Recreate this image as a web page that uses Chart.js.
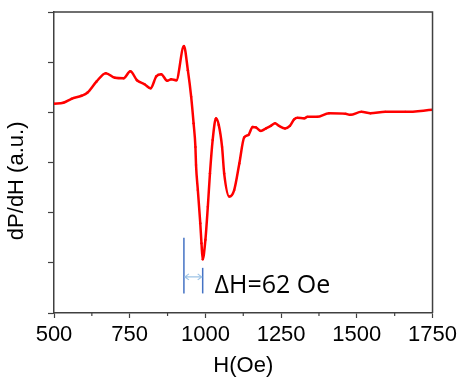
<!DOCTYPE html>
<html>
<head>
<meta charset="utf-8">
<script src="https://cdn.jsdelivr.net/npm/chart.js@4/dist/chart.umd.min.js"></script>
<style>
  body { margin: 0; background: #fff; }
  #wrap { width: 461px; height: 383px; }
</style>
</head>
<body>
<div id="wrap"><canvas id="fmr-chart" width="461" height="383"></canvas></div>
<script>
// field (Oe) and derivative signal (a.u.)
const fieldH = [500, 531, 558, 591, 610, 640, 671, 701, 730, 752, 774, 799, 819, 838, 854, 874, 887, 904,
  929, 942, 953, 961, 967, 969, 975, 983, 987, 991, 1000, 1008, 1015, 1024, 1035, 1044, 1055, 1062, 1079,
  1095, 1112, 1128, 1142, 1156, 1167, 1183, 1200, 1216, 1230, 1243, 1263, 1279, 1293, 1304, 1326, 1337,
  1369, 1408, 1463, 1479, 1515, 1545, 1594, 1660, 1750];
const dPdH = [4.17, 4.19, 4.27, 4.33, 4.39, 4.61, 4.78, 4.69, 4.68, 4.82, 4.64, 4.56, 4.48, 4.72, 4.76, 4.63, 4.66, 4.64,
  5.32, 4.84, 4.31, 3.78, 3.31, 2.95, 2.45, 1.79, 1.39, 1.07, 1.46, 2.12, 2.78, 3.45, 3.88, 3.75, 3.31, 2.78, 2.32,
  2.45, 2.98, 3.50, 3.55, 3.71, 3.70, 3.63, 3.68, 3.73, 3.78, 3.73, 3.68, 3.73, 3.86, 3.89, 3.88, 3.91,
  3.91, 3.98, 3.97, 3.95, 4.01, 3.98, 4.01, 4.01, 4.05];

const xTicks = [500, 750, 1000, 1250, 1500, 1750];
const xMinorTicks = [625, 875, 1125, 1375, 1625];

// linewidth marker: peak and trough fields, y-extents in a.u.
const markerH = [929, 991];
const markerTop = [1.5, 0.9];
const markerBottom = 0.39;
const arrowY = 0.72;
const widthLabel = 'ΔH=62 Oe';
const labelAt = [1030, 0.4];

const axisColor = '#404040';

const frame = {
  id: 'frame',
  afterDraw(chart) {
    const {ctx, chartArea: a, scales: {x, y}} = chart;
    ctx.save();
    ctx.strokeStyle = axisColor;
    ctx.lineWidth = 1.5;
    ctx.beginPath();
    ctx.moveTo(a.left, a.top); ctx.lineTo(a.right, a.top); ctx.lineTo(a.right, a.bottom);
    ctx.stroke();
    // minor ticks on x
    ctx.lineWidth = 1.2;
    xMinorTicks.forEach(v => {
      const px = x.getPixelForValue(v);
      ctx.beginPath(); ctx.moveTo(px, a.bottom); ctx.lineTo(px, a.bottom + 3); ctx.stroke();
    });
    // ΔH marker
    ctx.strokeStyle = '#4472C4';
    ctx.lineWidth = 1.5;
    markerH.forEach((h, i) => {
      const px = x.getPixelForValue(h);
      ctx.beginPath(); ctx.moveTo(px, y.getPixelForValue(markerTop[i])); ctx.lineTo(px, y.getPixelForValue(markerBottom)); ctx.stroke();
    });
    const x1 = x.getPixelForValue(markerH[0]) + 1, x2 = x.getPixelForValue(markerH[1]) - 1, ay = y.getPixelForValue(arrowY);
    ctx.strokeStyle = '#9DC3E6';
    ctx.lineWidth = 1.2;
    ctx.beginPath();
    ctx.moveTo(x1, ay); ctx.lineTo(x2, ay);
    ctx.moveTo(x1 + 4, ay - 3); ctx.lineTo(x1, ay); ctx.lineTo(x1 + 4, ay + 3);
    ctx.moveTo(x2 - 4, ay - 3); ctx.lineTo(x2, ay); ctx.lineTo(x2 - 4, ay + 3);
    ctx.stroke();
    ctx.fillStyle = '#000';
    ctx.font = '25px "Open Sans"';
    ctx.textBaseline = 'alphabetic';
    ctx.fillText(widthLabel, x.getPixelForValue(labelAt[0]), y.getPixelForValue(labelAt[1]));
    ctx.restore();
  }
};

new Chart(document.getElementById('fmr-chart'), {
  type: 'line',
  data: {
    datasets: [{
      data: fieldH.map((h, i) => ({x: h, y: dPdH[i]})),
      borderColor: '#ff0000',
      backgroundColor: '#ff0000',
      borderWidth: 2.5,
      pointRadius: 1.2,
      pointBorderWidth: 0,
      cubicInterpolationMode: 'monotone'
    }]
  },
  options: {
    responsive: false,
    animation: false,
    layout: {padding: {top: 12, right: 27, left: 4, bottom: 0}},
    plugins: {legend: {display: false}, tooltip: {enabled: false}},
    scales: {
      x: {
        type: 'linear',
        min: 500, max: 1750,
        afterBuildTicks: s => { s.ticks = xTicks.map(v => ({value: v})); },
        afterFit: s => { s.height = 70; },
        grid: {drawOnChartArea: false, tickLength: 5, tickWidth: 1.2, tickColor: axisColor},
        border: {color: axisColor, width: 1.5},
        ticks: {color: '#000', font: {family: '"Liberation Sans"', size: 22}, padding: 4, maxRotation: 0,
          callback: v => String(v)},
        title: {display: true, text: 'H(Oe)', color: '#000', font: {family: '"Liberation Sans"', size: 22}, padding: {top: 5}}
      },
      y: {
        min: 0, max: 6,
        ticks: {display: false, stepSize: 1},
        afterFit: s => { s.width = 50; },
        grid: {drawOnChartArea: false, tickLength: 6, tickWidth: 1.2, tickColor: axisColor},
        border: {color: axisColor, width: 1.5},
        title: {display: true, text: 'dP/dH (a.u.)\u00a0\u00a0\u00a0\u00a0\u00a0\u00a0', color: '#000', font: {family: '"Liberation Sans"', size: 22}, padding: {top: 0, bottom: 0}}
      }
    }
  },
  plugins: [frame]
});
</script>
</body>
</html>
